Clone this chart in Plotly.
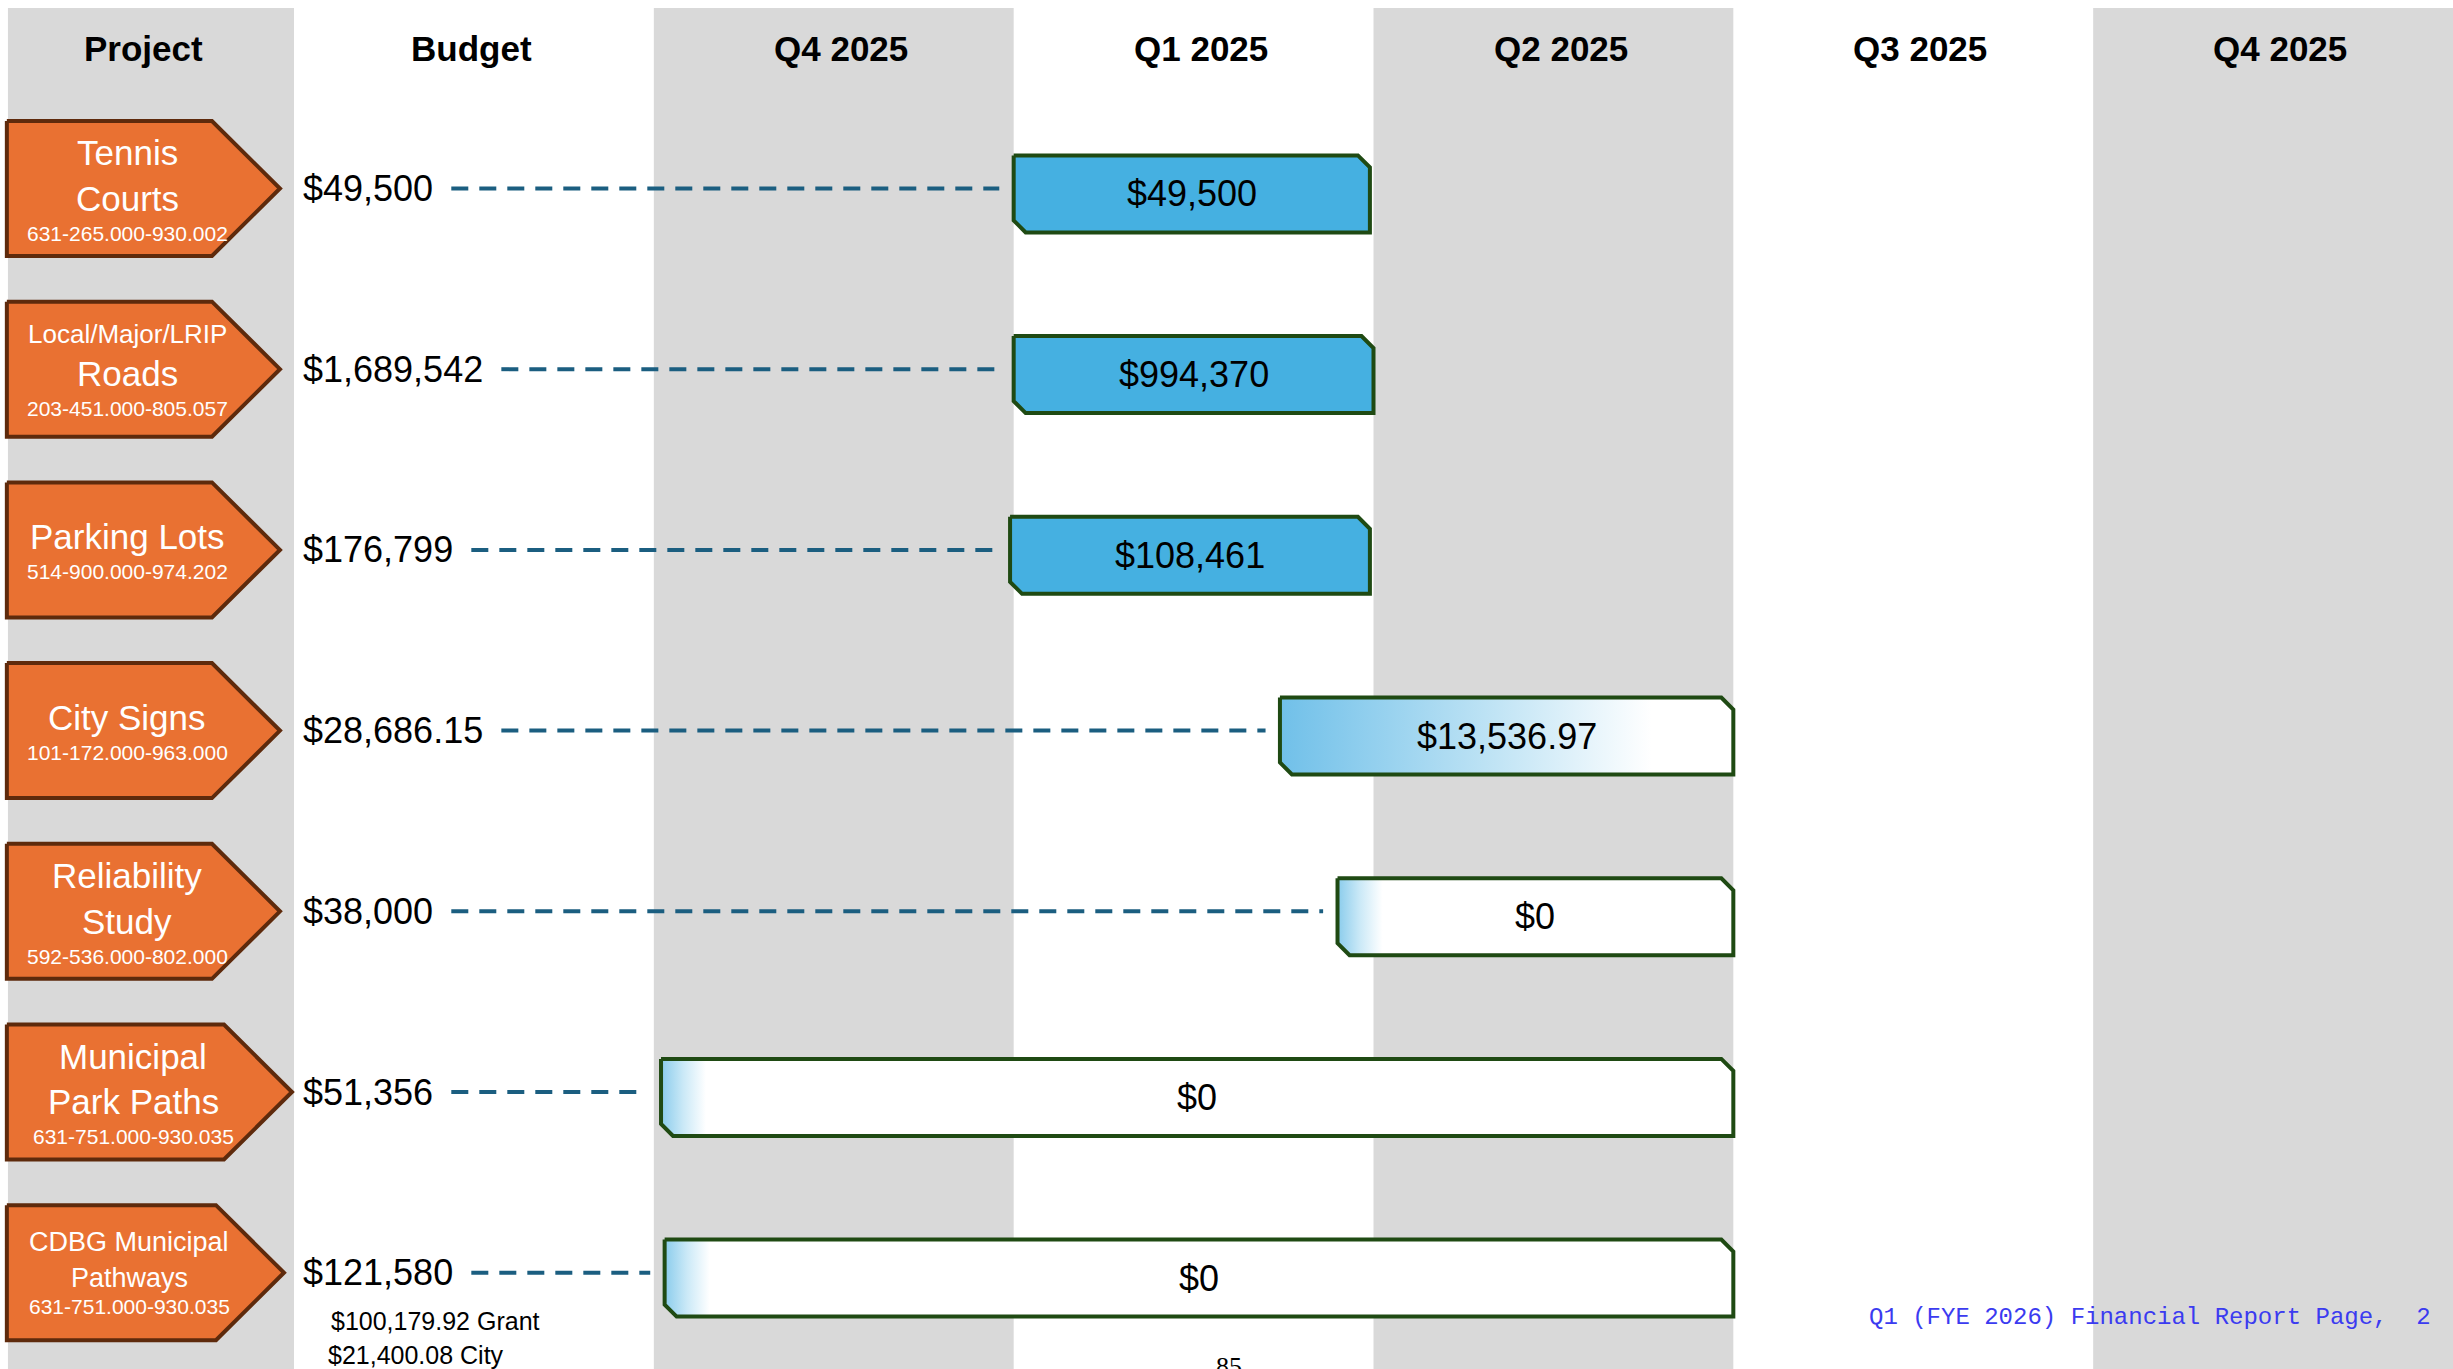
import plotly.graph_objects as go

# ---------------- data ----------------
columns = ["Project", "Budget", "Q4 2025", "Q1 2025", "Q2 2025", "Q3 2025", "Q4 2025"]
project_titles = [["Tennis", "Courts"], ["Local/Major/LRIP", "Roads"], ["Parking Lots"],
                  ["City Signs"], ["Reliability", "Study"], ["Municipal", "Park Paths"],
                  ["CDBG Municipal", "Pathways"]]
project_codes = ["631-265.000-930.002", "203-451.000-805.057", "514-900.000-974.202",
                 "101-172.000-963.000", "592-536.000-802.000", "631-751.000-930.035",
                 "631-751.000-930.035"]
budgets = ["$49,500", "$1,689,542", "$176,799", "$28,686.15", "$38,000", "$51,356", "$121,580"]
spent = ["$49,500", "$994,370", "$108,461", "$13,536.97", "$0", "$0", "$0"]
# timeline span of each bar in column units (2 = start of Q4 2025, 3 = start of Q1 2025 ...)
bar_start = [3.0, 3.0, 2.99, 3.74, 3.9, 2.02, 2.03]
bar_end = [3.99, 4.0, 3.99, 5.0, 5.0, 5.0, 5.0]
bar_fill = ["solid", "solid", "solid", "gradient", "edge", "edge", "edge"]
budget_notes = ["$100,179.92 Grant", "$21,400.08 City"]
footer_text = "Q1 (FYE 2026) Financial Report Page,  2"
page_number = "85"

# ---------------- geometry / style ----------------
W, H = 2453, 1369
PXX = (W - 294) / 6.0          # pixels per column unit
X_MIN = 1 - 294 / PXX
PXY = 180.7                    # pixels per row
ROW0 = 188.5
Y_TOP = -ROW0 / PXY
Y_BOT = (H - ROW0) / PXY
col_edges = [0.205, 1, 2, 3, 4, 5, 6, 7]
gray_cols = [0, 2, 4, 6]
GRAY = "#D9D9D9"
ORANGE = "#E97132"
BROWN = "#5E2A0C"
BLUE = "#45B0E1"
GREEN = "#1F4A13"
DASH = "#1B5E80"
FONT = "Liberation Sans, Arial, sans-serif"

title_sizes = [[35, 35], [26, 35], [35], [35], [35, 35], [35, 35], [27, 27]]
box_extra_px = [0, 0, 0, 0, 0, 12, 4]
code_size = 21
VAL_SIZE = 36
HEAD_SIZE = 35

def px_x(p):
    return p / PXX

def px_y(p):
    return p / PXY

def text_w(s, size):
    w = {"$": .556, ",": .278, ".": .278, " ": .278}
    return sum(w.get(c, .556) for c in s) * size

fig = go.Figure()
shapes = []
annotations = []

# column backgrounds
for i in gray_cols:
    shapes.append(dict(type="rect", xref="x", yref="paper", x0=col_edges[i], x1=col_edges[i + 1],
                       y0=0, y1=1 - 8 / H, fillcolor=GRAY, line_width=0, layer="below"))

# headers
head_x = [0.583, 1.492] + [(col_edges[i] + col_edges[i + 1]) / 2 + 0.02 for i in range(2, 7)]
for i, c in enumerate(columns):
    annotations.append(dict(x=head_x[i], y=1 - 48 / H, xref="x", yref="paper", text=f"<b>{c}</b>",
                            showarrow=False, font=dict(family=FONT, size=HEAD_SIZE, color="black"),
                            xanchor="center", yanchor="middle"))

n = len(project_titles)
BOX_L, BOX_S, BOX_T = 0.202, 0.772, 0.961
BOX_HH = px_y(67.5)
BAR_HH = px_y(38.5)
CX, CY = px_x(12), px_y(12)
LABEL_X = 1.02

for r in range(n):
    yc = r
    # dashed connector
    lab_w = text_w(budgets[r], VAL_SIZE)
    xs = LABEL_X + px_x(lab_w + 20)
    xe = bar_start[r] - 0.04
    fig.add_trace(go.Scatter(x=[xs, xe], y=[yc, yc], mode="lines", hoverinfo="skip",
                             line=dict(color=DASH, width=4, dash="17px,11px"), showlegend=False))
    # budget label
    annotations.append(dict(x=LABEL_X, y=yc, xref="x", yref="y", text=budgets[r], showarrow=False,
                            font=dict(family=FONT, size=VAL_SIZE, color="black"),
                            xanchor="left", yanchor="middle"))

    # bar
    yb_c = yc + 0.03
    x0, x1 = bar_start[r], bar_end[r]
    yt, yb = yb_c - BAR_HH, yb_c + BAR_HH
    bx = [x0, x1 - CX, x1, x1, x0 + CX, x0, x0]
    by = [yt, yt, yt + CY, yb, yb, yb - CY, yt]
    kw = dict(x=bx, y=by, mode="lines", fill="toself", hoverinfo="skip", showlegend=False,
              line=dict(color=GREEN, width=4))
    if bar_fill[r] == "solid":
        kw["fillcolor"] = BLUE
    elif bar_fill[r] == "gradient":
        kw["fillgradient"] = dict(type="horizontal", start=x0, stop=x1,
                                  colorscale=[[0, "#70C0E9"], [0.45, "#BCE2F4"], [0.82, "#FFFFFF"], [1, "#FFFFFF"]])
    else:
        f = px_x(45) / (x1 - x0)
        kw["fillgradient"] = dict(type="horizontal", start=x0, stop=x1,
                                  colorscale=[[0, "#8ACCEC"], [f * 0.5, "#CBE9F7"], [f, "#FFFFFF"], [1, "#FFFFFF"]])
    fig.add_trace(go.Scatter(**kw))
    annotations.append(dict(x=(x0 + x1) / 2, y=yb_c, xref="x", yref="y", text=spent[r], showarrow=False,
                            font=dict(family=FONT, size=VAL_SIZE, color="black"),
                            xanchor="center", yanchor="middle"))

    # project pentagon
    ex = px_x(box_extra_px[r])
    px_ = [BOX_L, BOX_S + ex, BOX_T + ex, BOX_S + ex, BOX_L, BOX_L]
    py_ = [yc - BOX_HH, yc - BOX_HH, yc, yc + BOX_HH, yc + BOX_HH, yc - BOX_HH]
    fig.add_trace(go.Scatter(x=px_, y=py_, mode="lines", fill="toself", fillcolor=ORANGE,
                             hoverinfo="skip", showlegend=False, line=dict(color=BROWN, width=4)))

    # text stack inside the box (pixel offsets relative to code line)
    sizes = title_sizes[r]
    lines = project_titles[r]
    pos = []
    cur = -(0.5 * code_size + 0.5 * sizes[-1] * 1.4)
    pos.insert(0, cur)
    for k in range(len(lines) - 2, -1, -1):
        cur -= 0.5 * sizes[k] * 1.3 + 0.5 * sizes[k + 1] * 1.3
        pos.insert(0, cur)
    top = pos[0] - 0.65 * sizes[0]
    bot = 0.65 * code_size
    shift = -(top + bot) / 2
    tx = 0.536 + ex / 2
    for k, (ln, sz) in enumerate(zip(lines, sizes)):
        annotations.append(dict(x=tx, y=yc + px_y(pos[k] + shift), xref="x", yref="y", text=ln,
                                showarrow=False, font=dict(family=FONT, size=sz, color="white"),
                                xanchor="center", yanchor="middle"))
    annotations.append(dict(x=tx, y=yc + px_y(shift), xref="x", yref="y", text=project_codes[r],
                            showarrow=False, font=dict(family=FONT, size=code_size, color="white"),
                            xanchor="center", yanchor="middle"))

# budget notes under last project
for k, note in enumerate(budget_notes):
    annotations.append(dict(x=LABEL_X + px_x(28 - 3 * k), y=(n - 1) + px_y(48 + 34 * k), xref="x", yref="y",
                            text=note, showarrow=False, font=dict(family=FONT, size=25, color="black"),
                            xanchor="left", yanchor="middle"))

# footer
annotations.append(dict(x=1 - 20 / W, y=1 - 1317 / H, xref="paper", yref="paper", text=footer_text,
                        showarrow=False, font=dict(family="Liberation Mono, Courier New, monospace",
                                                   size=24, color="#3B3BF0"),
                        xanchor="right", yanchor="middle"))
annotations.append(dict(x=1229 / W, y=1 - 1350 / H, xref="paper", yref="paper", text=page_number,
                        showarrow=False, font=dict(family="Liberation Serif, Times New Roman, serif",
                                                   size=26, color="black"),
                        xanchor="center", yanchor="top"))

fig.update_layout(
    width=W, height=H, margin=dict(l=0, r=0, t=0, b=0),
    paper_bgcolor="white", plot_bgcolor="white", showlegend=False,
    xaxis=dict(range=[X_MIN, 7.0], visible=False, fixedrange=True),
    yaxis=dict(range=[Y_BOT, Y_TOP], visible=False, fixedrange=True),
    shapes=shapes, annotations=annotations,
)

fig.write_html("out.html", config={"displayModeBar": False},
               post_script="document.body.style.margin='0';document.body.style.overflow='hidden';")
